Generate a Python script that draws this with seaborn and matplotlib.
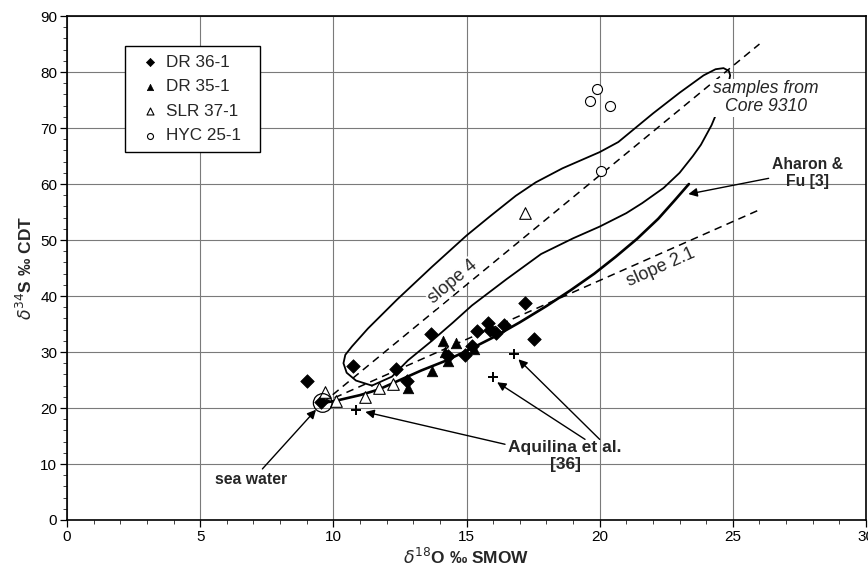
import matplotlib
matplotlib.use('Agg')
import matplotlib.pyplot as plt
import seaborn as sns
import pandas as pd

# sample data (d18O, d34S)
dr36_x = [9.0, 9.55, 10.75, 12.35, 12.75, 13.65, 14.3, 14.95, 15.2, 15.4, 15.8, 15.9, 16.1, 16.4, 17.2, 17.55]
dr36_y = [24.9, 21.0, 27.5, 27.0, 24.8, 33.2, 29.3, 29.4, 31.0, 33.8, 35.2, 33.9, 33.4, 34.8, 38.7, 32.4]
dr35_x = [12.8, 13.7, 14.1, 14.2, 14.3, 14.6, 15.3]
dr35_y = [23.5, 26.6, 32.0, 30.0, 28.4, 31.6, 30.5]
slr37_x = [9.7, 10.1, 11.2, 11.7, 12.25, 17.2]
slr37_y = [22.9, 21.3, 22.0, 23.5, 24.2, 54.8]
hyc25_x = [19.65, 19.9, 20.4, 20.05]
hyc25_y = [74.8, 77.0, 74.0, 62.3]
aquilina_x = [10.85, 16.0, 16.8]
aquilina_y = [19.6, 25.5, 29.7]
seawater_x = [9.6]
seawater_y = [20.9]

# reference lines
slope4_x = [9.6, 26.0]
slope4_y = [20.9, 85.0]
slope21_x = [9.6, 26.0]
slope21_y = [20.9, 55.4]
aharon_x = [9.6, 10.1, 11.0, 11.7, 12.5, 13.3, 14.2, 15.0, 16.0, 17.0, 18.0, 18.9, 19.8, 20.6, 21.4, 22.2, 22.8, 23.35]
aharon_y = [20.9, 21.3, 22.3, 23.3, 25.0, 26.7, 28.4, 30.2, 32.6, 35.3, 38.2, 41.0, 44.0, 47.0, 50.2, 53.8, 57.0, 60.0]

# outline of "samples from Core 9310" field
env_x = [11.45, 12.2, 12.8, 13.7, 14.5, 15.2, 16.5, 17.8, 19.0, 20.0, 21.0, 21.6, 22.4, 23.0, 23.5, 23.8,
         24.2, 24.55, 24.85, 24.9, 24.85, 24.65, 24.35, 23.9, 23.0, 22.0, 20.7, 20.0, 18.6, 17.6, 16.85,
         15.9, 15.0, 13.7, 12.4, 11.3, 10.7, 10.45, 10.38, 10.5, 10.85, 11.45]
env_y = [24.0, 25.6, 28.5, 32.0, 35.3, 38.3, 43.0, 47.5, 50.3, 52.4, 54.8, 56.6, 59.3, 62.0, 65.0, 67.0,
         70.5, 74.5, 78.3, 79.4, 80.2, 80.7, 80.5, 79.4, 76.3, 72.6, 67.5, 65.7, 62.8, 60.3, 57.9,
         54.3, 50.8, 45.2, 39.4, 34.2, 31.0, 29.5, 28.0, 26.3, 24.9, 24.0]

plt.figure(figsize=(8.68, 5.73), dpi=100)
sns.set_style('ticks')
plt.rcParams['font.family'] = ['Liberation Sans', 'DejaVu Sans']
ax = plt.gca()
plt.subplots_adjust(left=0.0772, right=0.9977, top=0.972, bottom=0.0925)

ax.set_xlim(0, 30)
ax.set_ylim(0, 90)
ax.set_xticks(range(0, 31, 5))
ax.set_yticks(range(0, 91, 10))
ax.set_xticks(range(0, 31, 1), minor=True)
ax.set_yticks(range(0, 91, 2), minor=True)
ax.grid(True, which='major', color='#7a7a7a', lw=0.8)
ax.set_axisbelow(True)
ax.tick_params(which='major', direction='out', length=5, width=0.9, labelsize=11, colors='black', pad=2)
ax.tick_params(which='minor', direction='out', length=3, width=0.7, colors='#404040')
for sp in ax.spines.values():
    sp.set_visible(True)
    sp.set_color('black')
    sp.set_linewidth(1.2)

env = pd.DataFrame({'x': env_x, 'y': env_y})
ax.plot(env['x'], env['y'], color='black', lw=1.3, zorder=3)
ax.plot(slope4_x, slope4_y, color='black', lw=1.1, ls=(0, (5, 3.5)), zorder=3)
ax.plot(slope21_x, slope21_y, color='black', lw=1.1, ls=(0, (5, 3.5)), zorder=3)
ax.plot(aharon_x, aharon_y, color='black', lw=1.9, zorder=3)

sns.scatterplot(x=dr36_x, y=dr36_y, marker='D', s=48, color='black', edgecolor='black',
                linewidth=0.5, label='DR 36-1', zorder=5, ax=ax)
sns.scatterplot(x=dr35_x, y=dr35_y, marker='^', s=58, color='black', edgecolor='black',
                linewidth=0.5, label='DR 35-1', zorder=5, ax=ax)
sns.scatterplot(x=slr37_x, y=slr37_y, marker='^', s=70, facecolor='white', edgecolor='black',
                linewidth=0.8, label='SLR 37-1', zorder=5, ax=ax)
sns.scatterplot(x=hyc25_x, y=hyc25_y, marker='o', s=52, facecolor='white', edgecolor='black',
                linewidth=0.8, label='HYC 25-1', zorder=5, ax=ax)
sns.scatterplot(x=aquilina_x, y=aquilina_y, marker='+', s=50, color='black', linewidth=1.4, zorder=5,
                ax=ax, legend=False)
sns.scatterplot(x=seawater_x, y=seawater_y, marker='o', s=180, facecolor='none', edgecolor='black',
                linewidth=0.9, zorder=6, ax=ax, legend=False)

leg = ax.legend(loc='upper left', bbox_to_anchor=(0.0726, 0.94, 0.169, 0.0), mode='expand',
                borderaxespad=0, fontsize=12.3, frameon=True, fancybox=False, edgecolor='black',
                framealpha=1, markerscale=0.6, handletextpad=0.0, labelspacing=0.55, borderpad=0.5,
                handlelength=1.9)
leg.get_frame().set_linewidth(1.0)
leg.set_zorder(10)

white = dict(facecolor='white', edgecolor='none', pad=1.0)
ax.text(14.5, 42.6, 'slope 4', rotation=40, fontsize=13, ha='center', va='center', bbox=white, zorder=4)
ax.text(22.3, 45.2, 'slope 2.1', rotation=24, fontsize=13, ha='center', va='center', bbox=white, zorder=4)
ax.text(26.25, 75.4, 'samples from\nCore 9310', fontsize=12.7, style='italic', ha='center', va='center',
        linespacing=1.05, bbox=white, zorder=4)

arrow = dict(arrowstyle='-|>', color='black', lw=1.0, mutation_scale=13, shrinkA=0, shrinkB=0)
ax.annotate('Aharon &\nFu [3]', xy=(23.33, 58.2), xytext=(27.8, 62.0), fontsize=11.3, fontweight='bold',
            ha='center', va='center', linespacing=1.2, arrowprops=dict(arrow, relpos=(0.0, 0.35)), zorder=7)
ax.annotate('sea water', xy=(9.35, 19.7), xytext=(6.9, 7.2), fontsize=11.3, fontweight='bold',
            ha='center', va='center', arrowprops=dict(arrow, relpos=(0.62, 1.0)), zorder=7)
ax.annotate('Aquilina et al.\n[36]', xy=(11.2, 19.3), xytext=(18.7, 11.4), fontsize=12.5, fontweight='bold',
            ha='center', va='center', linespacing=1.15, arrowprops=dict(arrow, relpos=(0.0, 0.85)), zorder=7)
ax.annotate('', xy=(16.15, 24.6), xytext=(19.45, 14.4), arrowprops=arrow, zorder=7)
ax.annotate('', xy=(16.95, 28.7), xytext=(20.0, 14.4), arrowprops=arrow, zorder=7)

ax.set_xlabel(r'$\delta^{18}$O ‰ SMOW', fontsize=12.5, fontweight='bold', labelpad=2)
ax.set_ylabel(r'$\delta^{34}$S ‰ CDT', fontsize=12.5, fontweight='bold', labelpad=4)

plt.savefig('out.png', dpi=100)
